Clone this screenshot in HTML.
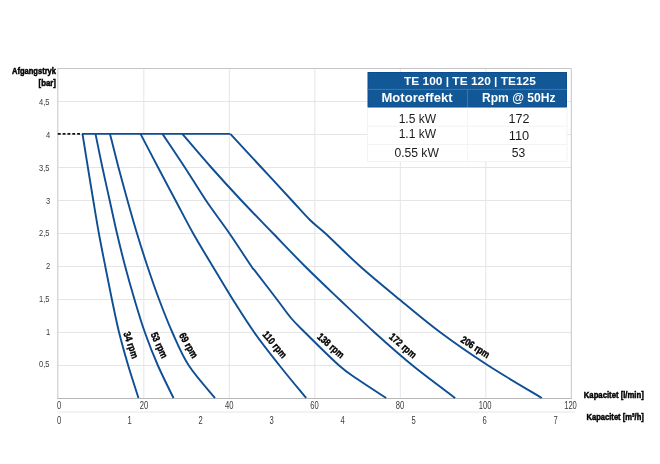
<!DOCTYPE html>
<html lang="da"><head><meta charset="utf-8"><title>TE 100 | TE 120 | TE125</title>
<style>html,body{margin:0;padding:0;background:#fff}body{width:660px;height:464px;overflow:hidden}svg{display:block}text{font-family:"Liberation Sans",sans-serif}</style></head><body>
<svg width="660" height="464" viewBox="0 0 660 464">
<rect width="660" height="464" fill="#fff"/>
<g stroke="#e5e5e5" stroke-width="1" fill="none">
<line x1="143.80" y1="68.5" x2="143.80" y2="398.5"/>
<line x1="229.30" y1="68.5" x2="229.30" y2="398.5"/>
<line x1="314.80" y1="68.5" x2="314.80" y2="398.5"/>
<line x1="400.30" y1="68.5" x2="400.30" y2="398.5"/>
<line x1="485.80" y1="68.5" x2="485.80" y2="398.5"/>
<line x1="57.8" y1="365.50" x2="571.3" y2="365.50"/>
<line x1="57.8" y1="332.50" x2="571.3" y2="332.50"/>
<line x1="57.8" y1="299.50" x2="571.3" y2="299.50"/>
<line x1="57.8" y1="266.50" x2="571.3" y2="266.50"/>
<line x1="57.8" y1="233.50" x2="571.3" y2="233.50"/>
<line x1="57.8" y1="200.50" x2="571.3" y2="200.50"/>
<line x1="57.8" y1="167.50" x2="571.3" y2="167.50"/>
<line x1="57.8" y1="134.50" x2="571.3" y2="134.50"/>
<line x1="57.8" y1="101.50" x2="571.3" y2="101.50"/>
</g>
<path d="M57.8 398.5 V68.5 H571.3 V398.5" fill="none" stroke="#c6c6c6" stroke-width="1"/>
<line x1="57.3" y1="398.5" x2="571.8" y2="398.5" stroke="#b8b8b8" stroke-width="1.1"/>
<line x1="57.3" y1="412" x2="574.3" y2="412" stroke="#e6e6e6" stroke-width="1"/>
<rect x="367.5" y="72.0" width="199.5" height="89.5" fill="#fff"/>
<g fill="none" stroke="#0e4e94" stroke-width="1.9" stroke-linejoin="round" stroke-linecap="butt">
<path d="M82.5 133.90 H230"/>
<path d="M82.50 133.90 C83.40 139.50 86.10 156.40 87.90 167.50 C89.70 178.60 91.47 189.50 93.30 200.50 C95.13 211.50 96.90 222.50 98.90 233.50 C100.90 244.50 103.13 255.50 105.30 266.50 C107.47 277.50 109.60 288.50 111.90 299.50 C114.20 310.50 116.38 321.50 119.10 332.50 C121.82 343.50 124.97 354.58 128.20 365.50 C131.43 376.42 136.78 392.58 138.50 398.00"/>
<path d="M95.50 133.90 C96.65 139.50 100.03 156.40 102.40 167.50 C104.77 178.60 107.27 189.50 109.70 200.50 C112.13 211.50 114.42 222.50 117.00 233.50 C119.58 244.50 122.28 255.50 125.20 266.50 C128.12 277.50 131.22 288.50 134.50 299.50 C137.78 310.50 141.00 321.50 144.90 332.50 C148.80 343.50 153.13 354.58 157.90 365.50 C162.67 376.42 170.90 392.58 173.50 398.00"/>
<path d="M110.00 133.90 C111.42 139.50 115.58 156.40 118.50 167.50 C121.42 178.60 124.42 189.50 127.50 200.50 C130.58 211.50 133.67 222.50 137.00 233.50 C140.33 244.50 143.82 255.50 147.50 266.50 C151.18 277.50 154.95 288.50 159.10 299.50 C163.25 310.50 167.45 321.50 172.40 332.50 C177.35 343.50 181.70 354.58 188.80 365.50 C195.90 376.42 210.63 392.58 215.00 398.00"/>
<path d="M140.50 133.90 C143.43 139.50 152.25 156.40 158.10 167.50 C163.95 178.60 169.75 189.50 175.60 200.50 C181.45 211.50 187.00 222.50 193.20 233.50 C199.40 244.50 206.20 255.50 212.80 266.50 C219.40 277.50 225.88 288.50 232.80 299.50 C239.72 310.50 246.52 321.50 254.30 332.50 C262.08 343.50 270.87 354.58 279.50 365.50 C288.13 376.42 301.67 392.58 306.10 398.00"/>
<path d="M162.50 133.90 C166.23 139.50 177.65 156.40 184.90 167.50 C192.15 178.60 198.57 189.50 206.00 200.50 C213.43 211.50 221.92 222.50 229.50 233.50 C237.08 244.50 247.25 260.28 251.50 266.50 C255.75 272.72 250.75 265.30 255.00 270.80 C259.25 276.30 271.00 291.63 277.00 299.50 C283.00 307.37 286.33 312.50 291.00 318.00 C295.67 323.50 296.98 324.58 305.00 332.50 C313.02 340.42 330.27 357.67 339.10 365.50 C347.93 373.33 350.15 374.08 358.00 379.50 C365.85 384.92 381.50 394.92 386.20 398.00"/>
<path d="M182.30 133.90 C187.13 139.50 201.45 156.40 211.30 167.50 C221.15 178.60 231.08 189.50 241.40 200.50 C251.72 211.50 262.57 222.50 273.20 233.50 C283.83 244.50 294.15 255.50 305.20 266.50 C316.25 277.50 327.93 288.50 339.50 299.50 C351.07 310.50 362.42 321.50 374.60 332.50 C386.78 343.50 399.17 354.58 412.60 365.50 C426.03 376.42 448.10 392.58 455.20 398.00"/>
<path d="M230.30 133.90 C235.48 139.50 251.13 156.40 261.40 167.50 C271.67 178.60 283.80 191.75 291.90 200.50 C300.00 209.25 304.40 214.50 310.00 220.00 C315.60 225.50 317.12 225.75 325.50 233.50 C333.88 241.25 347.97 255.50 360.30 266.50 C372.63 277.50 386.13 288.50 399.50 299.50 C412.87 310.50 425.72 321.50 440.50 332.50 C455.28 343.50 471.32 354.58 488.20 365.50 C505.08 376.42 532.87 392.58 541.80 398.00"/>
</g>
<line x1="57.8" y1="133.90" x2="82.5" y2="133.90" stroke="#111" stroke-width="1.6" stroke-dasharray="2.9 1.93"/>
<g fill="#3a3a3a" font-size="9.4">
<text transform="translate(49.4,367.30) scale(0.8,1)" text-anchor="end">0,5</text>
<text transform="translate(50.2,334.55) scale(0.8,1)" text-anchor="end">1</text>
<text transform="translate(49.4,301.80) scale(0.8,1)" text-anchor="end">1,5</text>
<text transform="translate(50.2,269.05) scale(0.8,1)" text-anchor="end">2</text>
<text transform="translate(49.4,236.30) scale(0.8,1)" text-anchor="end">2,5</text>
<text transform="translate(50.2,203.55) scale(0.8,1)" text-anchor="end">3</text>
<text transform="translate(49.4,170.80) scale(0.8,1)" text-anchor="end">3,5</text>
<text transform="translate(50.2,138.05) scale(0.8,1)" text-anchor="end">4</text>
<text transform="translate(49.4,105.30) scale(0.8,1)" text-anchor="end">4,5</text>
</g>
<g fill="#3a3a3a" font-size="10.9">
<text transform="translate(59.00,409) scale(0.7,1)" text-anchor="middle">0</text>
<text transform="translate(144.00,409) scale(0.7,1)" text-anchor="middle">20</text>
<text transform="translate(229.30,409) scale(0.7,1)" text-anchor="middle">40</text>
<text transform="translate(314.60,409) scale(0.7,1)" text-anchor="middle">60</text>
<text transform="translate(399.90,409) scale(0.7,1)" text-anchor="middle">80</text>
<text transform="translate(485.20,409) scale(0.7,1)" text-anchor="middle">100</text>
<text transform="translate(570.50,409) scale(0.7,1)" text-anchor="middle">120</text>
<text transform="translate(59.00,424.1) scale(0.7,1)" text-anchor="middle">0</text>
<text transform="translate(129.70,424.1) scale(0.7,1)" text-anchor="middle">1</text>
<text transform="translate(200.70,424.1) scale(0.7,1)" text-anchor="middle">2</text>
<text transform="translate(271.70,424.1) scale(0.7,1)" text-anchor="middle">3</text>
<text transform="translate(342.70,424.1) scale(0.7,1)" text-anchor="middle">4</text>
<text transform="translate(413.70,424.1) scale(0.7,1)" text-anchor="middle">5</text>
<text transform="translate(484.70,424.1) scale(0.7,1)" text-anchor="middle">6</text>
<text transform="translate(555.70,424.1) scale(0.7,1)" text-anchor="middle">7</text>
</g>
<g fill="#000" stroke="#000" stroke-width="0.5" font-weight="bold">
<text x="12.00" y="74" textLength="44.00" lengthAdjust="spacingAndGlyphs" font-size="9.4">Afgangstryk</text>
<text x="38.60" y="85.8" textLength="17.30" lengthAdjust="spacingAndGlyphs" font-size="9.4">[bar]</text>
<text x="583.80" y="398" textLength="60.00" lengthAdjust="spacingAndGlyphs" font-size="9.4">Kapacitet [l/min]</text>
<text x="586.50" y="420.3" textLength="57.30" lengthAdjust="spacingAndGlyphs" font-size="9.4">Kapacitet [m³/h]</text>
</g>
<g fill="#000" stroke="#000" stroke-width="0.4" font-size="10.2" font-weight="bold">
<text transform="translate(131.2,345) rotate(70.5) scale(0.82,1)" text-anchor="middle" dy="3.65">34 rpm</text>
<text transform="translate(159.5,345) rotate(65) scale(0.82,1)" text-anchor="middle" dy="3.65">53 rpm</text>
<text transform="translate(188.8,345.2) rotate(60) scale(0.82,1)" text-anchor="middle" dy="3.65">69 rpm</text>
<text transform="translate(274.9,344.4) rotate(50) scale(0.82,1)" text-anchor="middle" dy="3.65">110 rpm</text>
<text transform="translate(331,345.5) rotate(41) scale(0.82,1)" text-anchor="middle" dy="3.65">138 rpm</text>
<text transform="translate(403.1,345.5) rotate(41) scale(0.82,1)" text-anchor="middle" dy="3.65">172 rpm</text>
<text transform="translate(475.5,346.9) rotate(32) scale(0.82,1)" text-anchor="middle" dy="3.65">206 rpm</text>
</g>
<rect x="368.0" y="72.5" width="198.5" height="34.5" fill="#125796" stroke="#0c4c91" stroke-width="1"/>
<line x1="367.5" y1="89.4" x2="567.0" y2="89.4" stroke="#3e78b0" stroke-width="1"/>
<line x1="467.6" y1="89.4" x2="467.6" y2="107.5" stroke="#3e78b0" stroke-width="1"/>
<g stroke="#f0f0f0" stroke-width="0.8"><line x1="467.6" y1="107.5" x2="467.6" y2="161.5"/><line x1="367.5" y1="126.2" x2="567.0" y2="126.2"/><line x1="367.5" y1="144.5" x2="567.0" y2="144.5"/><line x1="367.5" y1="161.5" x2="567.0" y2="161.5"/><line x1="367.5" y1="107.5" x2="367.5" y2="161.5"/><line x1="567.0" y1="107.5" x2="567.0" y2="161.5"/></g>
<g fill="#fff" font-weight="bold">
<text x="404.00" y="84.7" textLength="131.80" lengthAdjust="spacingAndGlyphs" font-size="11.8">TE 100 | TE 120 | TE125</text>
<text x="381.50" y="102.2" textLength="71.00" lengthAdjust="spacingAndGlyphs" font-size="12">Motoreffekt</text>
<text x="482.00" y="102.2" textLength="73.50" lengthAdjust="spacingAndGlyphs" font-size="12">Rpm @ 50Hz</text>
</g>
<g fill="#1a1a1a">
<text x="398.70" y="122.8" textLength="37.40" lengthAdjust="spacingAndGlyphs" font-size="12">1.5 kW</text>
<text x="398.70" y="138.2" textLength="37.40" lengthAdjust="spacingAndGlyphs" font-size="12">1.1 kW</text>
<text x="394.40" y="156.5" textLength="44.50" lengthAdjust="spacingAndGlyphs" font-size="12">0.55 kW</text>
<text x="508.50" y="122.8" textLength="20.90" lengthAdjust="spacingAndGlyphs" font-size="12">172</text>
<text x="508.80" y="139.5" textLength="20.40" lengthAdjust="spacingAndGlyphs" font-size="12">110</text>
<text x="511.70" y="157.3" textLength="13.50" lengthAdjust="spacingAndGlyphs" font-size="12">53</text>
</g>
</svg></body></html>
